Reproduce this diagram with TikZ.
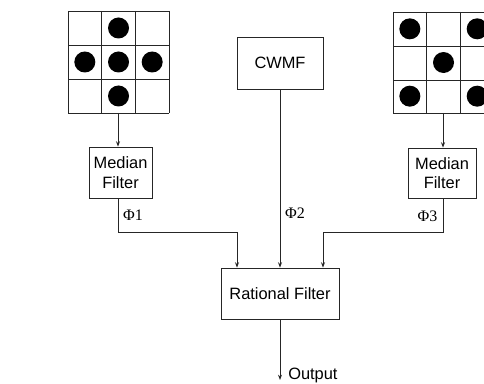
\documentclass[tikz,border=0pt]{standalone}
\usepackage{fontspec}
\setmainfont{Liberation Sans}
\newfontfamily\phifont{Liberation Serif}
\usetikzlibrary{arrows.meta}
\tikzset{
  px/.style={x=0.75pt,y=-0.75pt},
  wire/.style={draw=black!85,line width=0.6pt},
  arr/.style={wire,-{Stealth[length=4pt,width=3pt]}},
  boxnode/.style={draw=black!85,line width=0.6pt,inner sep=0pt,
    font=\fontsize{12.3}{14.5}\selectfont,align=center},
  dot/.style={fill=black},
  lbl/.style={font=\phifont\fontsize{12}{14}\selectfont,inner sep=0pt},
  gridline/.style={draw=black!85,line width=0.6pt}
}
\begin{document}
\begin{tikzpicture}[px]
\useasboundingbox (0,0) rectangle (484,384);
% left 3x3 grid
\draw[gridline] (68,11) -- (169,11) (68,45) -- (169,45) (68,79) -- (169,79) (68,113) -- (169,113);
\draw[gridline] (68,11) -- (68,113) (101.7,11) -- (101.7,113) (135.3,11) -- (135.3,113) (169,11) -- (169,113);
\foreach \c/\r in {1/0,0/1,1/1,2/1,1/2}
  \fill[dot] ({68+33.67*(\c+0.5)},{11+34*(\r+0.5)}) circle (10.5);
% right 3x3 grid (cut off at image edge)
\begin{scope}
\clip (0,0) rectangle (484,384);
\draw[gridline] (393,12) -- (494,12) (393,46) -- (494,46) (393,80) -- (494,80) (393,113) -- (494,113);
\draw[gridline] (393,12) -- (393,113) (426.5,12) -- (426.5,113) (460,12) -- (460,113);
\foreach \c/\r in {0/0,2/0,1/1,0/2,2/2}
  \fill[dot] ({393+33.67*(\c+0.5)},{12+33.67*(\r+0.5)}) circle (10.5);
\end{scope}
\coordinate (gl) at (118,113);
\coordinate (gr) at (443,113);
% boxes
\node[boxnode,minimum width=63*0.75pt,minimum height=51*0.75pt] (mfl) at (120.5,172.5) {Median\\Filter};
\node[boxnode,minimum width=68*0.75pt,minimum height=50*0.75pt] (mfr) at (442,173) {Median\\Filter};
\node[boxnode,minimum width=86*0.75pt,minimum height=52*0.75pt] (cwmf) at (280,63) {CWMF};
\node[boxnode,minimum width=118*0.75pt,minimum height=51*0.75pt] (rf) at (280,293.5) {Rational Filter};
\coordinate (out) at (280,380);
% connectors
\draw[arr] (gl) -- (gl |- mfl.north);
\draw[arr] (gr) -- (gr |- mfr.north);
\coordinate (l1) at (118,232);
\coordinate (r1) at (443,232);
\draw[arr] (l1 |- mfl.south) -- (l1) -| ([xshift=-43*0.75pt]rf.north);
\draw[arr] (cwmf.south) -- (rf.north);
\draw[arr] (r1 |- mfr.south) -- (r1) -| ([xshift=43*0.75pt]rf.north);
\draw[arr] (rf.south) -- (out);
% labels
\node[lbl] (p1) at (133,215) {Φ1};
\node[lbl] (p2) at (295,213) {Φ2};
\node[lbl] (p3) at (427.5,216) {Φ3};
\node[font=\fontsize{12.3}{14.5}\selectfont,inner sep=0pt,anchor=west] (o) at (288,375) {Output};
\end{tikzpicture}
\end{document}
